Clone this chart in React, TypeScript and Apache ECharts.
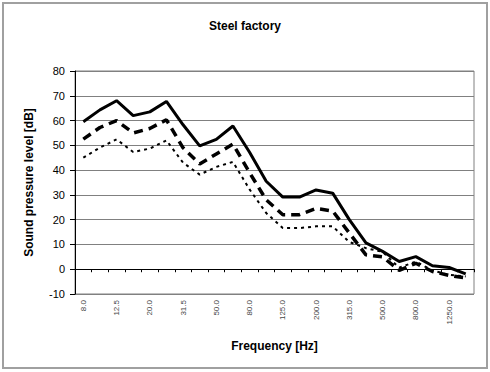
import React, { useEffect, useRef } from "react";
import * as echarts from "echarts";

const categories = [
  "8.0", "10.0", "12.5", "16.0", "20.0", "25.0", "31.5", "40.0", "50.0", "63.0",
  "80.0", "100.0", "125.0", "160.0", "200.0", "250.0", "315.0", "400.0", "500.0",
  "630.0", "800.0", "1000.0", "1250.0", "1600.0",
];

const seriesSolid = [
  59.5, 64.3, 68.0, 62.0, 63.5, 67.7, 58.3, 49.8, 52.4, 57.8, 47.2, 35.5,
  29.1, 29.1, 32.0, 30.7, 20.0, 10.6, 7.2, 3.1, 5.1, 1.4, 0.7, -1.9,
];

const seriesDashed = [
  52.5, 57.2, 60.0, 55.0, 56.8, 60.3, 49.0, 42.5, 46.5, 50.5, 39.0, 28.0,
  22.0, 22.0, 24.5, 23.5, 14.6, 5.8, 5.0, -0.5, 2.4, -0.9, -2.5, -3.5,
];

const seriesDotted = [
  45.0, 49.1, 52.4, 47.3, 48.7, 52.0, 43.0, 38.2, 41.3, 43.3, 32.2, 22.7,
  16.6, 16.6, 17.3, 17.3, 11.0, 8.5, 7.0, 0.6, 3.1, -0.5, -2.3, -2.9,
];

const yTicks = { min: -10, max: 80, interval: 10 };

const FONT = "'Liberation Sans', Arial, sans-serif";

export default function App() {
  const ref = useRef<HTMLDivElement>(null);

  useEffect(() => {
    if (!ref.current) return;
    const chart = echarts.init(ref.current, null, { renderer: "svg" });
    chart.setOption({
      animation: false,
      backgroundColor: "#ffffff",
      textStyle: { fontFamily: FONT },
      title: {
        text: "Steel factory",
        left: "center",
        top: 15,
        textStyle: { fontSize: 12, fontWeight: "bold", color: "#000", fontFamily: FONT },
      },
      graphic: [
        {
          type: "rect",
          shape: { x: 3, y: 3, width: 484, height: 365 },
          style: { fill: "none", stroke: "#a0a0a0", lineWidth: 2 },
          silent: true,
        },
      ],
      grid: {
        left: 75,
        top: 71,
        width: 399,
        height: 223,
        show: true,
        borderColor: "#808080",
        borderWidth: 1,
        backgroundColor: "#ffffff",
      },
      xAxis: {
        type: "category",
        data: categories,
        boundaryGap: true,
        name: "Frequency [Hz]",
        nameLocation: "middle",
        nameGap: 46,
        nameTextStyle: { fontSize: 12, fontWeight: "bold", color: "#000", fontFamily: FONT },
        axisLine: { show: true, lineStyle: { color: "#000", width: 1 } },
        axisTick: { show: true, interval: 0, length: 3, lineStyle: { color: "#000" } },
        axisLabel: {
          interval: 1,
          rotate: 90,
          fontSize: 8,
          color: "#444",
          margin: 6,
          fontFamily: FONT,
        },
        splitLine: { show: false },
      },
      yAxis: {
        type: "value",
        min: yTicks.min,
        max: yTicks.max,
        interval: yTicks.interval,
        name: "Sound pressure level [dB]",
        nameLocation: "middle",
        nameRotate: 90,
        nameGap: 40,
        nameTextStyle: { fontSize: 12, fontWeight: "bold", color: "#000", fontFamily: FONT },
        axisLine: { show: true, lineStyle: { color: "#000", width: 1 } },
        axisTick: { show: true, length: 5, lineStyle: { color: "#000" } },
        axisLabel: { fontSize: 11, color: "#000", margin: 10, fontFamily: FONT },
        splitLine: { show: true, lineStyle: { color: "#808080", width: 1 } },
      },
      series: [
        {
          type: "line",
          data: seriesDotted,
          symbol: "none",
          lineStyle: { color: "#000", width: 2, type: [3, 4] },
        },
        {
          type: "line",
          data: seriesDashed,
          symbol: "none",
          lineStyle: { color: "#000", width: 3.5, type: [9, 6] },
        },
        {
          type: "line",
          data: seriesSolid,
          symbol: "none",
          lineStyle: { color: "#000", width: 3 },
        },
      ],
    });
    return () => chart.dispose();
  }, []);

  return (
    <div
      ref={ref}
      style={{ position: "fixed", left: 0, top: 0, width: 490, height: 372 }}
    />
  );
}
